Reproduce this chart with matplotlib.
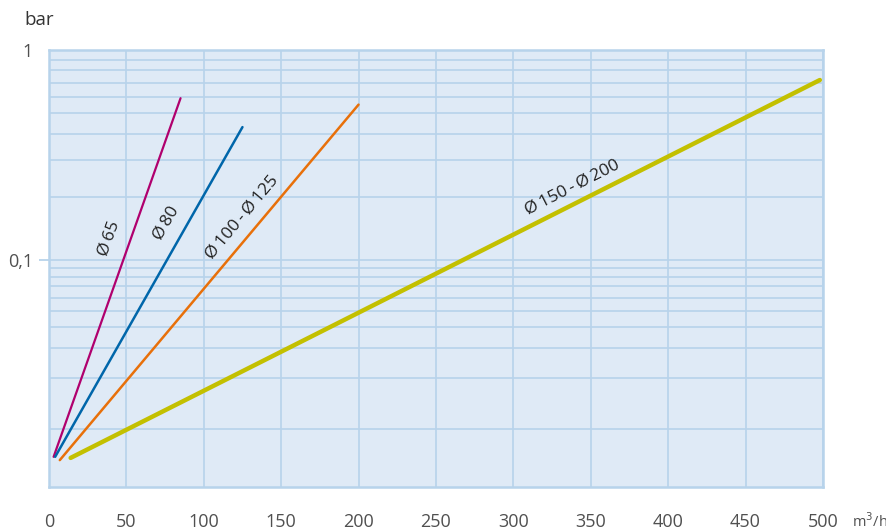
import numpy as np
import matplotlib
matplotlib.use("Agg")
import matplotlib.pyplot as plt

# flow (m3/h) and pressure drop (bar) end points of each line
series_names = ["Ø\u200965", "Ø\u200980", "Ø\u2009100\u2009-\u2009Ø\u2009125", "Ø\u2009150\u2009-\u2009Ø\u2009200"]
flow_start = [3, 4, 7, 14]
flow_end = [85, 125, 200, 498]
drop_start = [0.0068, 0.0068, 0.0065, 0.0067]
drop_end = [0.59, 0.43, 0.55, 0.72]
colors = ["#b0006e", "#0066aa", "#e8700a", "#c3c000"]
widths = [1.6, 1.8, 1.8, 3.2]

# label anchor points and angles
label_x = [39, 76, 125, 338]
label_y = [0.127, 0.150, 0.160, 0.223]
label_rot = [70, 60, 50, 27]

x_ticks = [0, 50, 100, 150, 200, 250, 300, 350, 400, 450, 500]
y_ticks = [0.1, 1]
y_tick_labels = ["0,1", "1"]
y_grid = [0.01, 0.02, 0.03, 0.04, 0.05, 0.06, 0.07, 0.08, 0.09,
          0.2, 0.3, 0.4, 0.5, 0.6, 0.7, 0.8, 0.9]

K = 0.8  # lower decade is drawn compressed in the original


def fwd(y):
    y = np.clip(np.asarray(y, dtype=float), 1e-6, None)
    ly = np.log10(y)
    return np.where(ly >= -1, ly, -1 + K * (ly + 1))


def inv(u):
    u = np.asarray(u, dtype=float)
    return np.where(u >= -1, 10.0 ** u, 10.0 ** ((u + 1) / K - 1))


plt.rcParams["font.family"] = ["Open Sans", "DejaVu Sans"]

grid_c = "#b7d3eb"
tick_c = "#505050"
fig = plt.figure(figsize=(8.87, 5.32), dpi=100)
ax = fig.add_axes([0.0552, 0.0846, 0.8726, 0.8214])
ax.set_facecolor("#dfeaf6")
ax.set_yscale("function", functions=(fwd, inv))
ax.set_xlim(0, 500)
ax.set_ylim(0.0045, 1)

for i in range(len(series_names)):
    ax.plot([flow_start[i], flow_end[i]], [drop_start[i], drop_end[i]],
            color=colors[i], lw=widths[i], solid_capstyle="round", zorder=3)
    ax.text(label_x[i], label_y[i], series_names[i], rotation=label_rot[i],
            ha="center", va="center", fontsize=12.5, color="#222222",
            rotation_mode="anchor", zorder=4)

ax.set_xticks(x_ticks)
ax.set_xticklabels([str(v) for v in x_ticks])
ax.set_yticks(y_ticks)
ax.set_yticklabels(y_tick_labels)
ax.set_yticks(y_grid, minor=True)
ax.tick_params(axis="x", length=0, pad=19, labelsize=13, labelcolor=tick_c)
ax.tick_params(axis="y", which="major", length=7.5, width=1.3, color=grid_c,
               pad=4, labelsize=13, labelcolor=tick_c)
ax.tick_params(axis="y", which="minor", length=0)
ax.yaxis.get_major_ticks()[1].tick1line.set_visible(False)
ax.xaxis.set_minor_locator(matplotlib.ticker.NullLocator())

ax.grid(True, which="both", color=grid_c, lw=1.2, zorder=1)
ax.set_axisbelow(True)
for s in ax.spines.values():
    s.set_color(grid_c)
    s.set_linewidth(1.8)

fig.text(0.027, 0.962, "bar", fontsize=13.5, color="#333333", va="center")
ax.text(1.037, -0.08, "m$^3$/h", transform=ax.transAxes, fontsize=10.5,
        color=tick_c, va="center", ha="left")

fig.savefig("out.png", dpi=100)
